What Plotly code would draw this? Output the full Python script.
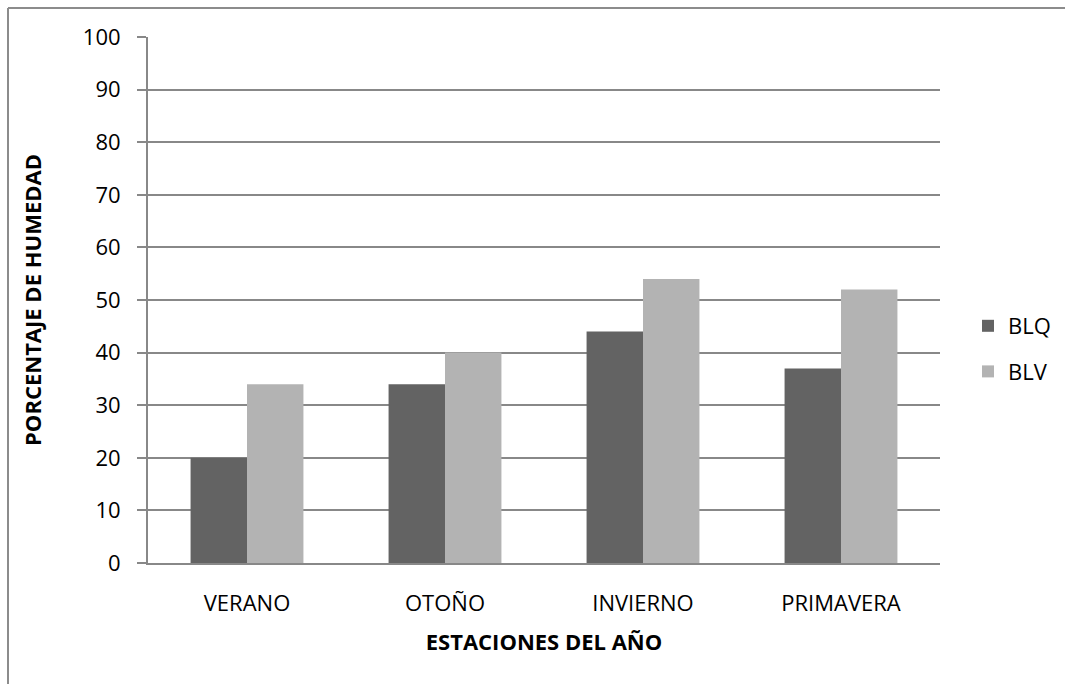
import plotly.graph_objects as go

# Humidity percentage per season for the two sites
estaciones = ["VERANO", "OTOÑO", "INVIERNO", "PRIMAVERA"]
blq = [20, 34, 44, 37]
blv = [34, 40, 54, 52]
y_ticks = list(range(0, 101, 10))

W, H = 1065, 684
L, R, T, B = 148, 125, 37, 121

FONT = "Open Sans"
FS = 22
GRID = "#888888"

fig = go.Figure()
fig.add_trace(go.Bar(name="BLQ", x=estaciones, y=blq, marker=dict(color="#636363", line=dict(width=0)),
                     legendgroup="a"))
fig.add_trace(go.Bar(name="BLV", x=estaciones, y=blv, marker=dict(color="#b3b3b3", line=dict(width=0)),
                     legendgroup="b"))

# outer frame of the chart area (left and top edges visible)
px = lambda v: (v - L) / (W - L - R)
py = lambda v: (H - B - v) / (H - T - B)
frame = dict(type="line", xref="paper", yref="paper", line=dict(color="#8c8c8c", width=2))
fig.add_shape(**frame, x0=px(8), x1=px(8), y0=py(8), y1=py(H + 5))
fig.add_shape(**frame, x0=px(8), x1=px(W + 5), y0=py(8), y1=py(8))

fig.update_layout(
    width=W, height=H,
    margin=dict(l=L, r=R, t=T, b=B, autoexpand=False),
    paper_bgcolor="white", plot_bgcolor="white",
    barmode="group", bargap=0.43, bargroupgap=0,
    font=dict(family=FONT, size=FS, color="#000000"),
    showlegend=True,
    legend=dict(x=px(968), xanchor="left", y=py(305), yanchor="top",
                font=dict(size=FS), tracegroupgap=14, traceorder="grouped",
                itemwidth=30, bgcolor="rgba(0,0,0,0)"),
    xaxis=dict(
        showgrid=False, showline=True, linecolor=GRID, linewidth=2,
        ticks="", tickfont=dict(size=FS), ticklabelstandoff=20, automargin=False,
        title=dict(text="<b>ESTACIONES DEL AÑO</b>", font=dict(size=FS), standoff=18),
    ),
    yaxis=dict(
        range=[0, 100], tickvals=y_ticks, showgrid=True, gridcolor=GRID, gridwidth=2,
        showline=True, linecolor=GRID, linewidth=2, zeroline=False,
        ticks="outside", ticklen=9, tickcolor=GRID, tickwidth=2,
        tickfont=dict(size=FS), ticklabelstandoff=12, automargin=False,
        title=dict(text="<b>PORCENTAJE DE HUMEDAD</b>", font=dict(size=FS), standoff=35),
    ),
)

fig.write_html("out.html")
